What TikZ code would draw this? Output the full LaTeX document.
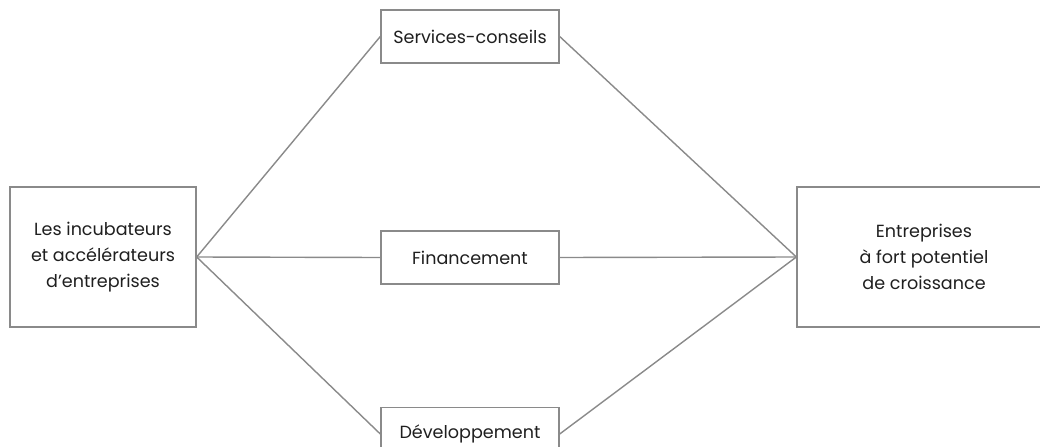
\documentclass[tikz,border=0pt]{standalone}
\usepackage{fontspec}
\setmainfont{Poppins}
\definecolor{linegray}{RGB}{138,138,138}
\begin{document}
\begin{tikzpicture}[x = 0.02cm, y = -0.02cm, line width = 0.8pt,
                      box/.style = {draw = linegray, fill = white, align = center, inner sep = 0pt,
                                    text = black!88, font = \fontsize{10}{15}\selectfont},
                      side/.style = {box, minimum width = 3.72cm, minimum height = 2.8cm},
                      mid/.style = {box, minimum width = 3.56cm, minimum height = 1.06cm}]
    \useasboundingbox (0, 0) rectangle (1040, 446);
    \clip (0, 0) rectangle (1040, 446);
    \node [side] (inc) at (103, 257) {Les incubateurs\\et accélérateurs\\d’entreprises};
    \node [side, minimum width = 5.08cm] (ent) at (924, 257) {Entreprises\\à fort potentiel\\de croissance};
    \node [mid] (svc) at (470, 36.5) {Services-conseils};
    \node [mid] (fin) at (470, 257.5) {Financement};
    \node [mid] (dev) at (470, 434) {Développement};
    \draw [linegray] (inc.east) -- (svc.west);
    \draw [linegray] (inc.east) -- (fin.west);
    \draw [linegray] (inc.east) -- (dev.west);
    \draw [linegray] (svc.east) -- (ent.west);
    \draw [linegray] (fin.east) -- (ent.west);
    \draw [linegray] (dev.east) -- (ent.west);
\end{tikzpicture}
\end{document}
